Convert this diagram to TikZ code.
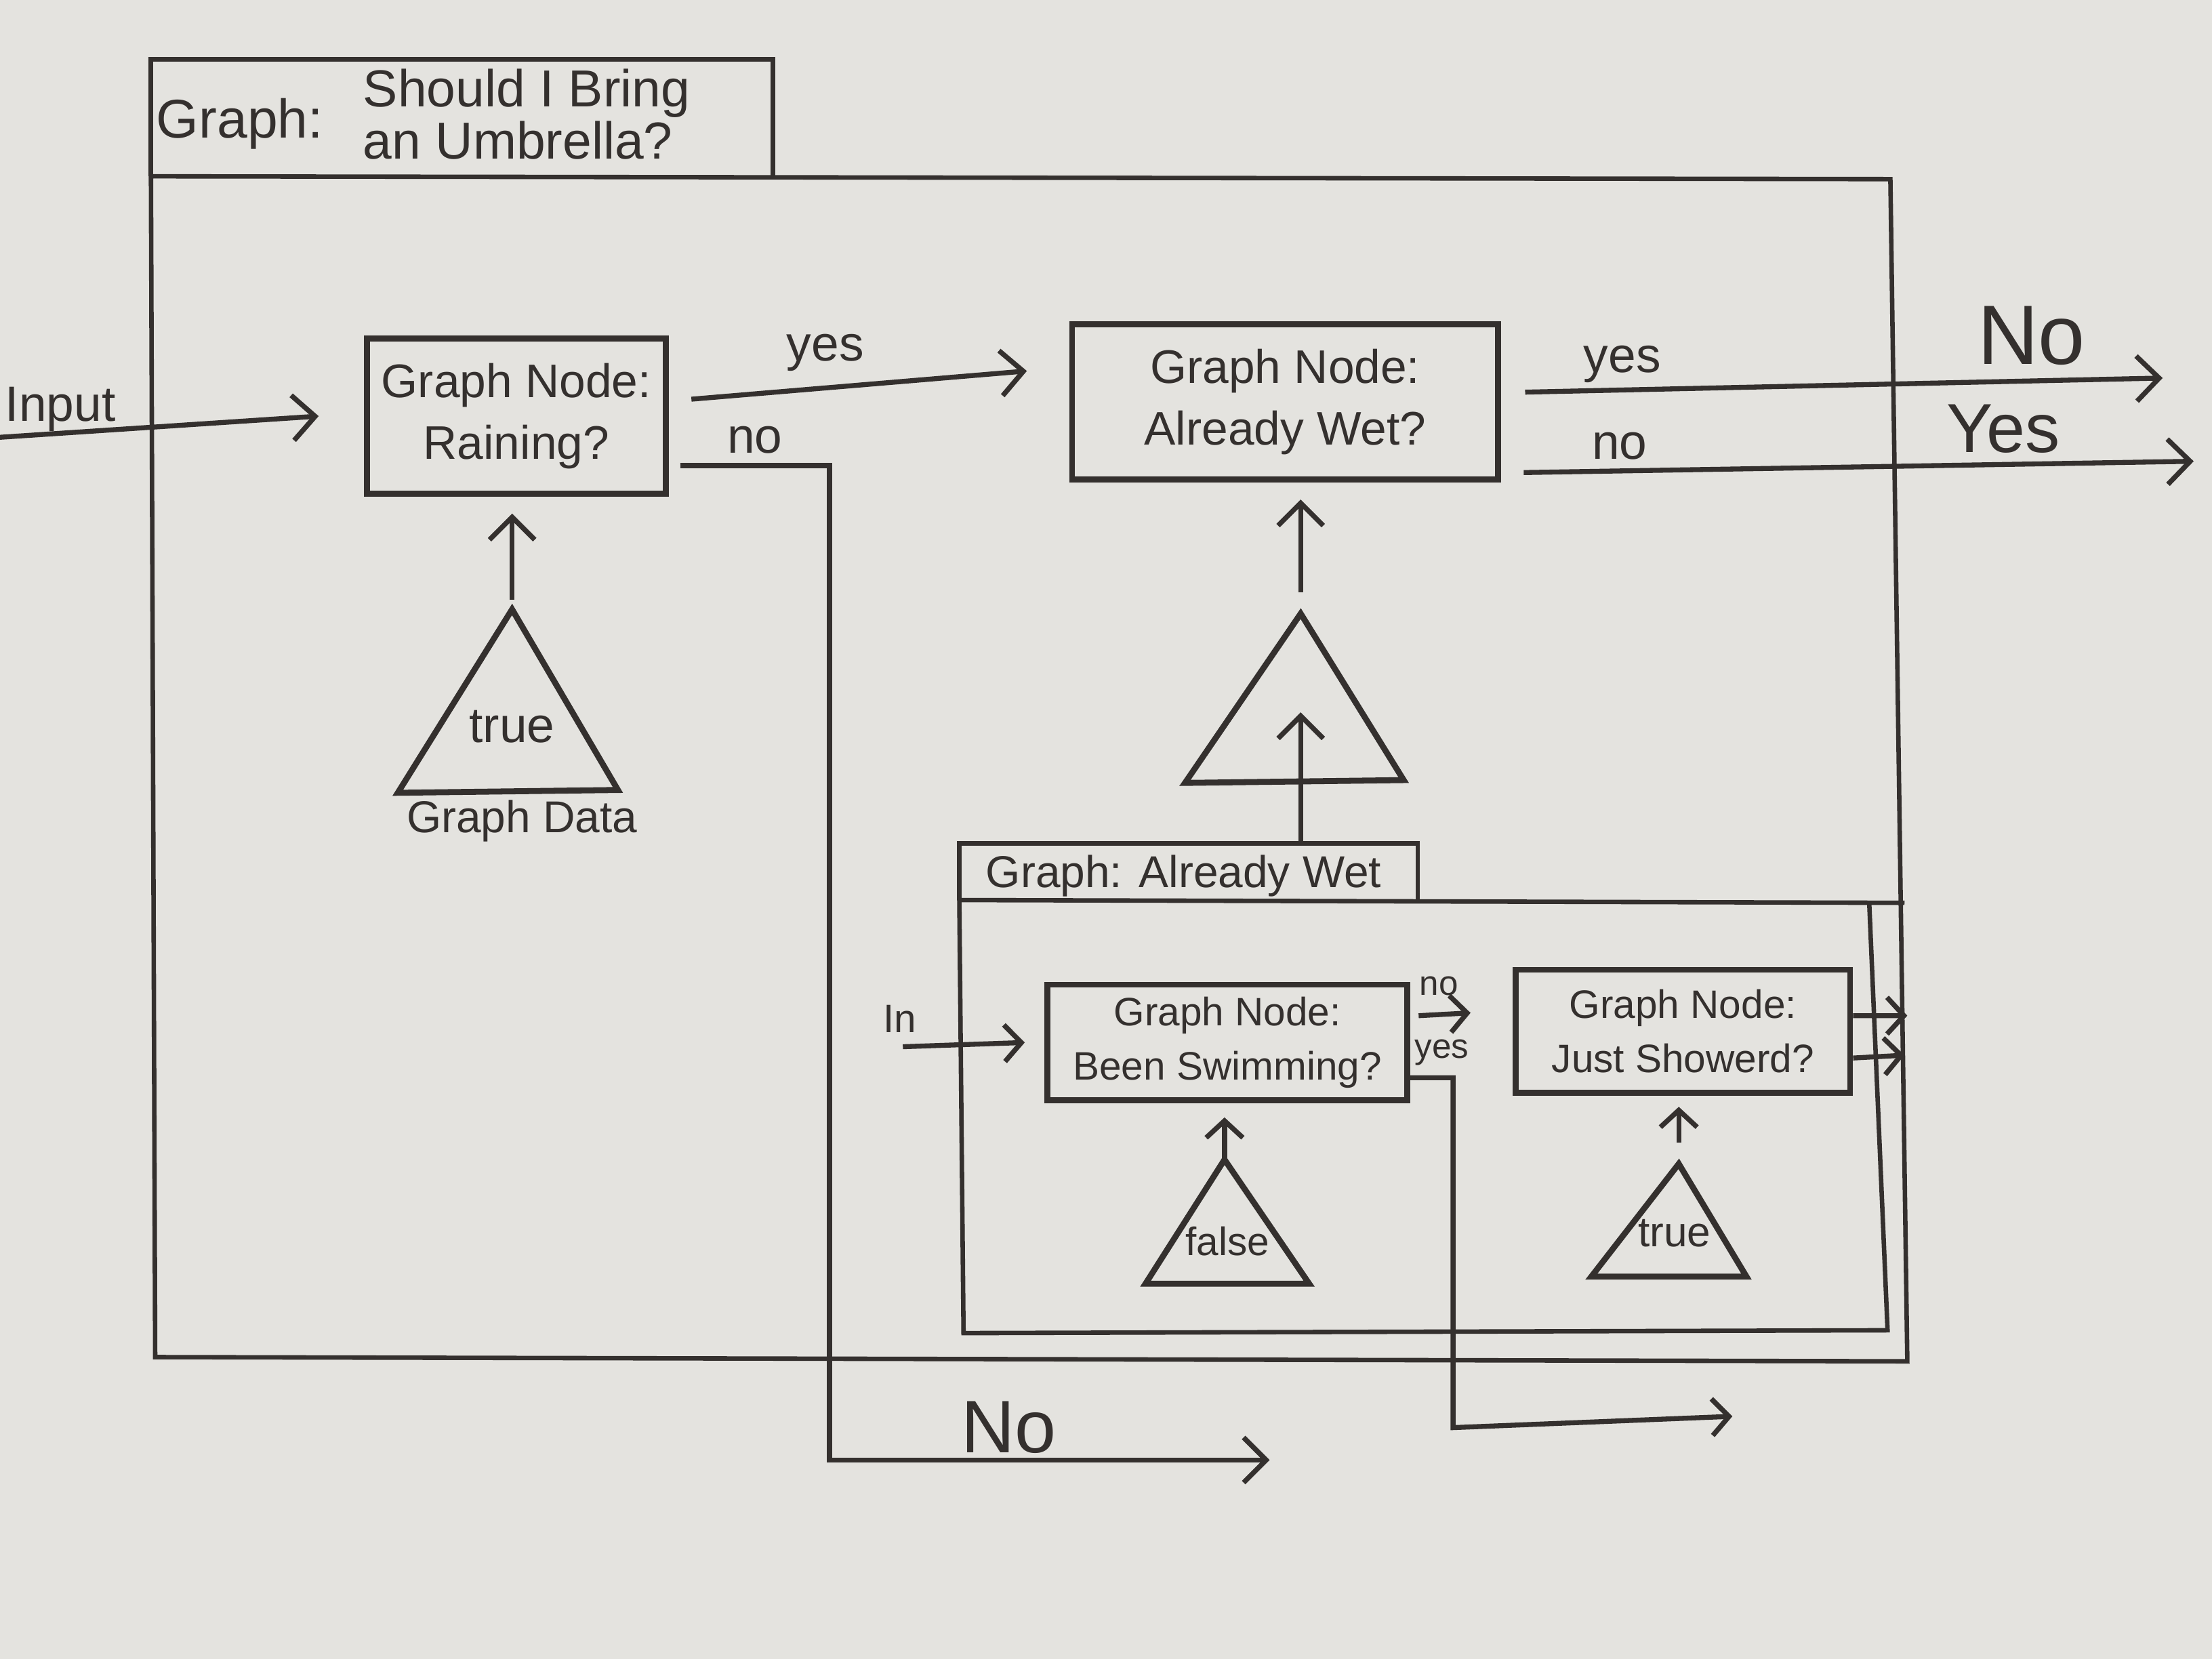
\documentclass[tikz,border=0pt]{standalone}
\usepackage{fontspec}
\setmainfont{Liberation Sans}
\usetikzlibrary{arrows.meta,positioning,calc}
\definecolor{ink}{RGB}{52,48,46}
\definecolor{paper}{RGB}{228,227,223}

\begin{document}
\begin{tikzpicture}[
  every node/.style={font=\fontsize{9.5}{12.5}\selectfont,text=ink},
  gnode/.style={draw=ink,line width=1.2pt,align=center,inner sep=0pt},
  small/.style={font=\fontsize{8}{11}\selectfont},
  frame/.style={draw=ink,line width=0.9pt},
  wire/.style={draw=ink,line width=1pt},
  arr/.style={wire,-{Straight Barb[length=1.6mm,width=3.2mm]}},
  arrs/.style={wire,-{Straight Barb[length=1.2mm,width=2.6mm]}}]
\useasboundingbox (0,0) rectangle (15.68,11.76);
\fill[paper] (0,0) rectangle (15.68,11.76);
% outer graph
\draw[frame] (1.07,10.51) -- (1.07,11.34) -- (5.48,11.34) -- (5.48,10.51);
\draw[frame] (1.07,10.51) -- (13.40,10.49) -- (13.52,2.11) -- (1.10,2.14) -- cycle;
\node[font=\fontsize{11}{13}\selectfont] (ttl) at (1.70,10.88) {Graph:};
\node[anchor=west,align=left,font=\fontsize{10.5}{10.5}\selectfont] (ttlq) at (2.45,10.95) {Should I Bring\\an Umbrella?};
% raining
\node[gnode,minimum width=2.12cm,minimum height=1.10cm] (rain) at (3.66,8.81) {Graph Node:\\Raining?};
\node[anchor=west,inner sep=0pt,font=\fontsize{10}{12}\selectfont] (inp) at (0.03,8.86) {Input};
\coordinate (inpl) at (0,8.66);
\draw[arr] (inpl) -- ([xshift=-3.2mm]rain.west);
\coordinate (dtop) at (3.63,7.44);
\draw[wire,line width=1.2pt] (dtop) -- (2.82,6.14) -- (4.38,6.16) -- cycle;
\node[font=\fontsize{10}{12}\selectfont] (dval) at (3.63,6.61) {true};
\node[font=\fontsize{9}{11}\selectfont] (dlbl) at (3.70,5.94) {Graph Data};
\draw[arr,shorten <=0.7mm,shorten >=1.2mm] (dtop) -- (dtop |- rain.south);
% already wet
\node[gnode,minimum width=3.02cm,minimum height=1.10cm] (wet) at (9.11,8.91) {Graph Node:\\Already Wet?};
\draw[arr] ([xshift=1.6mm,yshift=1.2mm]rain.east) -- ([xshift=-3mm,yshift=2.2mm]wet.west);
\node[font=\fontsize{10}{12}\selectfont] at (5.85,9.26) {yes};
\coordinate (nodn) at (5.88,1.41);
\coordinate (noend) at (9.00,1.41);
\draw[arr] ([xshift=0.8mm,yshift=-3.5mm]rain.east) -| (nodn) -- (noend);
\node[font=\fontsize{10}{12}\selectfont] at (5.35,8.64) {no};
\node[font=\fontsize{15}{17}\selectfont] at (7.15,1.64) {No};
\coordinate (etop) at (9.22,7.41);
\draw[wire,line width=1.2pt] (etop) -- (8.40,6.21) -- (9.95,6.23) -- cycle;
\draw[arr,shorten <=1.5mm,shorten >=1.2mm] (etop) -- (etop |- wet.south);
\coordinate (outno) at (15.33,9.08);
\coordinate (outyes) at (15.55,8.49);
\draw[arr] ([xshift=1.7mm,yshift=0.7mm]wet.east) -- (outno);
\draw[arr] ([xshift=1.6mm,yshift=-5mm]wet.east) -- (outyes);
\node[font=\fontsize{10}{12}\selectfont] at (11.50,9.18) {yes};
\node[font=\fontsize{10}{12}\selectfont] at (11.48,8.60) {no};
\node[font=\fontsize{17}{20}\selectfont] at (14.40,9.38) {No};
\node[font=\fontsize{14}{17}\selectfont] at (14.20,8.72) {Yes};
% inner graph
\draw[frame] (6.80,5.38) -- (6.80,5.78) -- (10.05,5.78) -- (10.05,5.38);
\draw[frame] (13.50,5.36) -- (6.80,5.38) -- (6.83,2.31) -- (13.38,2.33) -- (13.25,5.36);
\node[font=\fontsize{9}{11}\selectfont] (awttl) at (8.39,5.55) {Graph: Already Wet};
\coordinate (awtop) at (9.22,5.78);
\coordinate (awin) at (9.22,6.71);
\draw[arr] (awtop) -- (awin);
% been swimming
\node[gnode,small,minimum width=2.55cm,minimum height=0.82cm] (swim) at (8.70,4.37) {Graph Node:\\Been Swimming?};
\node[font=\fontsize{8}{9}\selectfont] (inlbl) at (6.38,4.54) {In};
\coordinate (inl) at (6.40,4.34);
\draw[arrs] (inl) -- ([xshift=-1.4mm]swim.west);
\coordinate (ftop) at (8.68,3.54);
\draw[wire,line width=1.2pt] (ftop) -- (8.12,2.66) -- (9.28,2.66) -- cycle;
\node[small] at (8.70,2.96) {false};
\draw[arrs,shorten >=1mm] (ftop) -- (ftop |- swim.south);
% just showered
\node[gnode,small,minimum width=2.37cm,minimum height=0.87cm] (shower) at (11.93,4.45) {Graph Node:\\Just Showerd?};
\draw[arrs] ([xshift=0.6mm,yshift=1.9mm]swim.east) -- ([xshift=-3mm,yshift=1.3mm]shower.west);
\node[font=\fontsize{7}{8}\selectfont] at (10.20,4.77) {no};
\coordinate (ydn) at (10.30,1.64);
\coordinate (yend) at (12.28,1.72);
\draw[arrs] ([yshift=-2.5mm]swim.east) -| (ydn) -- (yend);
\node[font=\fontsize{7}{8}\selectfont] at (10.22,4.30) {yes};
\coordinate (sh1) at (13.52,4.56);
\coordinate (sh2) at (13.50,4.28);
\draw[arrs] ([yshift=1.1mm]shower.east) -- (sh1);
\draw[arrs] ([yshift=-1.9mm]shower.east) -- (sh2);
\coordinate (ttop) at (11.90,3.51);
\draw[wire,line width=1.2pt] (ttop) -- (11.28,2.71) -- (12.38,2.71) -- cycle;
\node[font=\fontsize{8.5}{10}\selectfont] at (11.87,3.02) {true};
\draw[arrs,shorten <=1.5mm,shorten >=0.8mm] (ttop) -- (ttop |- shower.south);
\end{tikzpicture}
\end{document}
